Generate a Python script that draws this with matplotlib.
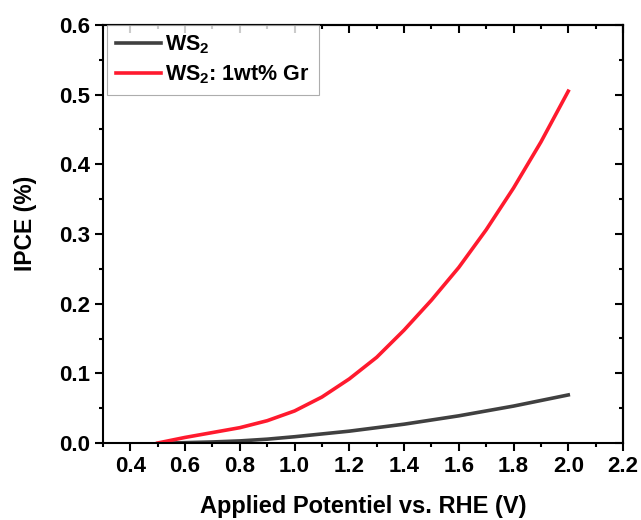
import matplotlib
matplotlib.use('Agg')
import matplotlib.pyplot as plt
from matplotlib.ticker import MultipleLocator

plt.rcParams['font.family'] = ['Liberation Sans', 'DejaVu Sans']
plt.rcParams['font.weight'] = 'bold'
plt.rcParams['mathtext.fontset'] = 'custom'
plt.rcParams['mathtext.rm'] = 'Liberation Sans:bold'
plt.rcParams['mathtext.bf'] = 'Liberation Sans:bold'

# WS2
ws2_x = [0.55, 0.6, 0.7, 0.8, 0.9, 1.0, 1.1, 1.2, 1.3, 1.4, 1.5, 1.6, 1.7, 1.8, 1.9, 2.0]
ws2_y = [0.0, 0.0005, 0.0015, 0.003, 0.0055, 0.009, 0.013, 0.017, 0.022, 0.027, 0.033, 0.039, 0.046, 0.053, 0.061, 0.069]

# WS2: 1wt% Gr
gr_x = [0.5, 0.6, 0.7, 0.8, 0.9, 1.0, 1.1, 1.2, 1.3, 1.4, 1.5, 1.6, 1.7, 1.8, 1.9, 2.0]
gr_y = [0.0, 0.008, 0.015, 0.022, 0.032, 0.046, 0.066, 0.092, 0.123, 0.162, 0.205, 0.252, 0.306, 0.366, 0.432, 0.505]

x_ticks = [0.4, 0.6, 0.8, 1.0, 1.2, 1.4, 1.6, 1.8, 2.0, 2.2]
x_labels = ['0.4', '0.6', '0.8', '1.0', '1.2', '1.4', '1.6', '1.8', '2.0', '2.2']

fig = plt.figure(figsize=(6.41, 5.2), dpi=100)
ax = fig.add_axes([103 / 641, 1 - 443 / 520, 520 / 641, 418 / 520])

ax.plot(ws2_x, ws2_y, color='#404040', lw=2.6, label=r'WS$_2$')
ax.plot(gr_x, gr_y, color='#ff1a2e', lw=2.6, label=r'WS$_2$: 1wt% Gr')

ax.set_xlim(0.3, 2.2)
ax.set_ylim(0, 0.6)
ax.set_xticks(x_ticks)
ax.set_xticklabels(x_labels)
ax.xaxis.set_minor_locator(MultipleLocator(0.1))
ax.yaxis.set_major_locator(MultipleLocator(0.1))
ax.yaxis.set_minor_locator(MultipleLocator(0.05))

ax.tick_params(which='both', direction='out', labelsize=16, width=1.5)
ax.tick_params(which='major', length=6)
ax.tick_params(which='minor', length=3)
for s in ax.spines.values():
    s.set_linewidth(1.5)

# inward ticks on top and right without labels
axt = ax.secondary_xaxis('top')
axt.set_xticks(x_ticks)
axt.xaxis.set_minor_locator(MultipleLocator(0.1))
axt.tick_params(which='both', direction='in', labeltop=False, width=1.5)
axt.tick_params(which='major', length=6)
axt.tick_params(which='minor', length=3)
axr = ax.secondary_yaxis('right')
axr.yaxis.set_major_locator(MultipleLocator(0.1))
axr.yaxis.set_minor_locator(MultipleLocator(0.05))
axr.tick_params(which='both', direction='in', labelright=False, width=1.5)
axr.tick_params(which='major', length=6)
axr.tick_params(which='minor', length=3)
for sec in (axt, axr):
    for s in sec.spines.values():
        s.set_linewidth(1.5)

ax.set_xlabel('Applied Potentiel vs. RHE (V)', fontsize=17, fontweight='bold')
ax.xaxis.set_label_coords(0.5, -0.125)
ax.set_ylabel('IPCE (%)', fontsize=16.5, fontweight='bold')
ax.yaxis.set_label_coords(-0.127, 0.526)

leg = ax.legend(loc='upper left', fontsize=15.5, frameon=True, fancybox=False,
                bbox_to_anchor=(0.008, 1.0), borderaxespad=0.0, handlelength=2.1,
                borderpad=0.4, labelspacing=0.35, handletextpad=0.2)
leg.get_frame().set_edgecolor('#999999')
leg.get_frame().set_linewidth(0.8)

plt.savefig('out.png', dpi=100)
